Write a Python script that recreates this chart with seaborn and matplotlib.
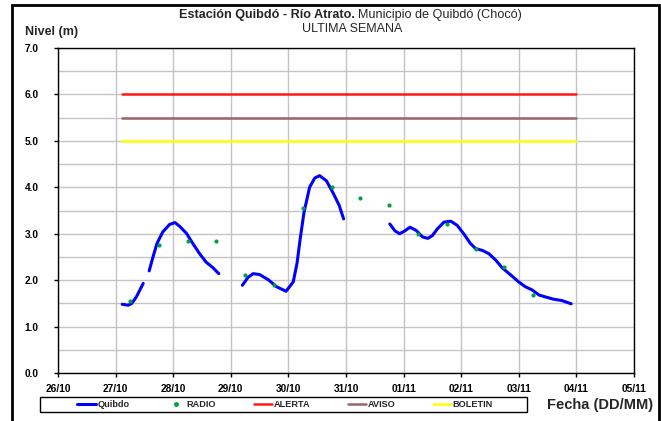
import matplotlib
matplotlib.use("Agg")
import matplotlib.pyplot as plt
import matplotlib.dates as mdates
from matplotlib.lines import Line2D
from matplotlib.patches import Rectangle
from matplotlib.ticker import MultipleLocator, FormatStrFormatter
import numpy as np
import pandas as pd
import seaborn as sns

# --- Nivel registrado por el sensor (m); NaN marca los cortes de la serie ---
quibdo_time = [
    "2010-10-27 02:45", "2010-10-27 05:15", "2010-10-27 06:45", "2010-10-27 08:40",
    "2010-10-27 11:30", "2010-10-27 12:45", "2010-10-27 14:00", "2010-10-27 15:35",
    "2010-10-27 17:15", "2010-10-27 19:40", "2010-10-27 22:30", "2010-10-28 00:45",
    "2010-10-28 02:40", "2010-10-28 05:30", "2010-10-28 08:10", "2010-10-28 11:00",
    "2010-10-28 13:40", "2010-10-28 16:30", "2010-10-28 19:00",
    "2010-10-29 04:50", "2010-10-29 07:10", "2010-10-29 09:20", "2010-10-29 12:00",
    "2010-10-29 15:35", "2010-10-29 19:00", "2010-10-29 23:00", "2010-10-30 02:00",
    "2010-10-30 03:35", "2010-10-30 04:50", "2010-10-30 06:30", "2010-10-30 08:50",
    "2010-10-30 11:00", "2010-10-30 13:00", "2010-10-30 15:50", "2010-10-30 18:30",
    "2010-10-30 21:10", "2010-10-30 23:00",
    "2010-10-31 18:15", "2010-10-31 20:25", "2010-10-31 22:20", "2010-11-01 00:30",
    "2010-11-01 02:40", "2010-11-01 05:15", "2010-11-01 07:55", "2010-11-01 10:05",
    "2010-11-01 12:00", "2010-11-01 14:10", "2010-11-01 16:50", "2010-11-01 19:40",
    "2010-11-01 22:20", "2010-11-02 01:10", "2010-11-02 03:50", "2010-11-02 06:00",
    "2010-11-02 08:50", "2010-11-02 11:30", "2010-11-02 14:25", "2010-11-02 17:00",
    "2010-11-02 20:40", "2010-11-03 00:00", "2010-11-03 02:40", "2010-11-03 05:30",
    "2010-11-03 08:25", "2010-11-03 11:00", "2010-11-03 14:25", "2010-11-03 18:00",
    "2010-11-03 21:50",
]
quibdo_level = [
    1.48, 1.46, 1.50, 1.64,
    1.93, np.nan, 2.20, 2.50,
    2.79, 3.04, 3.20, 3.24,
    3.16, 3.01, 2.79, 2.57,
    2.39, 2.27, 2.14,
    1.89, 2.06, 2.14, 2.12,
    2.01, 1.86, 1.76, 1.96,
    2.36, 2.86, 3.46, 4.00,
    4.20, 4.25, 4.14, 3.89,
    3.61, 3.32,
    3.21, 3.06, 3.00, 3.06,
    3.14, 3.07, 2.93, 2.90,
    2.96, 3.11, 3.25, 3.27,
    3.18, 2.99, 2.79, 2.68,
    2.64, 2.57, 2.43, 2.27,
    2.11, 1.96, 1.86, 1.79,
    1.68, 1.64, 1.59, 1.56,
    1.49,
]
# tramo continuo al que pertenece cada lectura
quibdo_tramo = [1] * 5 + [0] + [2] * 13 + [3] * 18 + [4] * 29

# --- Reportes por radio (m) ---
radio_time = [
    "2010-10-27 06:00", "2010-10-27 18:00", "2010-10-28 06:00", "2010-10-28 18:00",
    "2010-10-29 06:00", "2010-10-29 18:00", "2010-10-30 06:00", "2010-10-30 18:00",
    "2010-10-31 06:00", "2010-10-31 18:00", "2010-11-01 06:00", "2010-11-01 18:00",
    "2010-11-02 06:00", "2010-11-02 18:00", "2010-11-03 06:00",
]
radio_level = [
    1.55, 2.76, 2.85, 2.85,
    2.11, 1.89, 3.56, 4.00,
    3.76, 3.62, 2.99, 3.22,
    2.68, 2.29, 1.68,
]

# --- Umbrales (m) ---
umbral_names = ["ALERTA", "AVISO", "BOLETIN"]
umbral_values = [6.0, 5.5, 5.0]
umbral_colors = ["#ff1a1a", "#996666", "#ffff00"]
umbral_span = ["2010-10-27 02:45", "2010-11-04 00:00"]

x_start, x_end = "2010-10-26", "2010-11-05"

sns.set_theme(style="white")
plt.rcParams["font.family"] = ["Liberation Sans", "DejaVu Sans"]

W, H = 661, 421
fig = plt.figure(figsize=(W / 100, H / 100), dpi=100)
ax = fig.add_axes([58 / W, 1 - 373 / H, (634 - 58) / W, (373 - 48) / H])

df_q = pd.DataFrame({"fecha": pd.to_datetime(quibdo_time),
                     "nivel": quibdo_level, "tramo": quibdo_tramo})
df_q = df_q[df_q["tramo"] > 0]
df_r = pd.DataFrame({"fecha": pd.to_datetime(radio_time), "nivel": radio_level})

for name, val, col in zip(umbral_names, umbral_values, umbral_colors):
    df_u = pd.DataFrame({"fecha": pd.to_datetime(umbral_span), "nivel": [val, val]})
    sns.lineplot(data=df_u, x="fecha", y="nivel", color=col, lw=1.8, ax=ax,
                 legend=False, zorder=3)

sns.lineplot(data=df_q, x="fecha", y="nivel", units="tramo", estimator=None,
             sort=False, color="#0000ff", lw=2.2, ax=ax, legend=False, zorder=4)
sns.scatterplot(data=df_r, x="fecha", y="nivel", color="#00a040", s=9,
                linewidth=0, ax=ax, legend=False, zorder=5)

ax.set_xlim(pd.Timestamp(x_start), pd.Timestamp(x_end))
ax.set_ylim(0, 7)
ax.xaxis.set_major_locator(mdates.DayLocator())
ax.xaxis.set_major_formatter(mdates.DateFormatter("%d/%m"))
ax.yaxis.set_major_locator(MultipleLocator(1.0))
ax.yaxis.set_minor_locator(MultipleLocator(0.5))
ax.yaxis.set_major_formatter(FormatStrFormatter("%.1f"))

ax.grid(True, which="major", axis="both", color="#c4c4c4", lw=1)
ax.grid(True, which="minor", axis="y", color="#c4c4c4", lw=1)
ax.set_axisbelow(True)
ax.set_xlabel("")
ax.set_ylabel("")

for s in ax.spines.values():
    s.set_color("black")
    s.set_linewidth(1)

ax.tick_params(axis="both", which="major", direction="out", length=3, width=1,
               color="black", labelsize=7.3, labelcolor="black")
ax.tick_params(axis="y", which="major", pad=11, left=True)
ax.tick_params(axis="y", which="minor", left=False)
ax.tick_params(axis="x", which="major", pad=5, bottom=True)
for lab in ax.get_xticklabels() + ax.get_yticklabels():
    lab.set_fontweight("bold")

# Títulos
fig.text(355 / W, 1 - 18 / H, "Estación Quibdó - Río Atrato.", ha="right",
         va="baseline", fontsize=9.1, fontweight="bold")
fig.text(358 / W, 1 - 18 / H, "Municipio de Quibdó (Chocó)", ha="left",
         va="baseline", fontsize=9.1)
fig.text(352 / W, 1 - 32 / H, "ULTIMA SEMANA", ha="center", va="baseline",
         fontsize=9)
fig.text(25 / W, 1 - 35 / H, "Nivel (m)", ha="left", va="baseline",
         fontsize=9, fontweight="bold")
fig.text(600 / W, 1 - 409 / H, "Fecha (DD/MM)", ha="center", va="baseline",
         fontsize=10.5, fontweight="bold")

# Leyenda
handles = [
    Line2D([], [], color="#0000ff", lw=2.2),
    Line2D([], [], color="#00a040", marker="o", ms=2.5, lw=0),
    Line2D([], [], color=umbral_colors[0], lw=1.8),
    Line2D([], [], color=umbral_colors[1], lw=1.8),
    Line2D([], [], color=umbral_colors[2], lw=1.8),
]
labels = ["Quibdo", "RADIO"] + umbral_names
leg = fig.legend(handles, labels, ncol=5, loc="center",
                 bbox_to_anchor=(285 / W, 1 - 404.5 / H),
                 prop={"size": 6.6, "weight": "bold"}, frameon=False,
                 handlelength=2.0, handletextpad=0.15,
                 borderpad=0.2, borderaxespad=0, columnspacing=4.1)
# recuadro de la leyenda
fig.patches.append(Rectangle((40 / W, 1 - 412 / H), (527 - 40) / W, 15 / H,
                             transform=fig.transFigure, fill=False,
                             edgecolor="black", lw=1, zorder=9))

# Marco exterior
fig.patches.append(Rectangle((12 / W, -0.02), (659 - 12) / W, 1 - 5 / H + 0.02,
                             transform=fig.transFigure, fill=False,
                             edgecolor="black", lw=2, zorder=10))

fig.savefig("out.png", dpi=100)
